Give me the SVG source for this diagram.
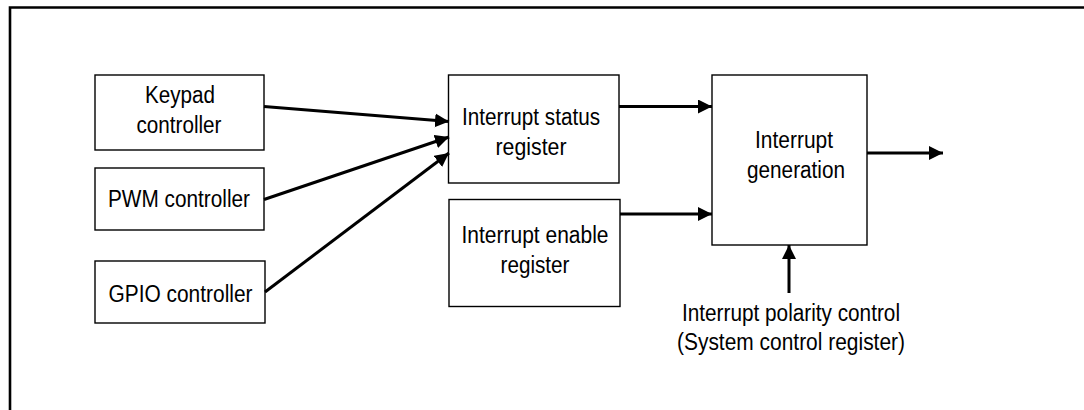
<svg xmlns="http://www.w3.org/2000/svg" width="1084" height="410" viewBox="0 0 1084 410">
<style>
.box{fill:#fff;stroke:#000;stroke-width:1.4}
.t{font-family:"Liberation Sans",Arial,sans-serif;font-size:23px;fill:#000;text-anchor:middle}
.c{fill:none;stroke:#000;stroke-width:3}
.frame{fill:none;stroke:#000;stroke-width:2.6}
</style>
<defs>
<marker id="ah" markerUnits="userSpaceOnUse" markerWidth="16" markerHeight="16" refX="14" refY="7" orient="auto">
<path d="M0,0 L14,7 L0,14 z" fill="#000"/>
</marker>
</defs>
<rect width="1084" height="410" fill="#fff"/>
<path class="frame" d="M10,410 L10,7.5 L1084,7.5"/>
<g id="keypad"><rect class="box" x="95" y="75" width="169" height="75"/><text class="t" x="180" y="103" textLength="70" lengthAdjust="spacingAndGlyphs">Keypad</text><text class="t" x="179" y="133" textLength="85" lengthAdjust="spacingAndGlyphs">controller</text></g>
<g id="pwm"><rect class="box" x="95" y="168" width="169" height="62"/><text class="t" x="179" y="207" textLength="142" lengthAdjust="spacingAndGlyphs">PWM controller</text></g>
<g id="gpio"><rect class="box" x="95" y="261" width="170" height="62"/><text class="t" x="180.5" y="302" textLength="144" lengthAdjust="spacingAndGlyphs">GPIO controller</text></g>
<g id="status"><rect class="box" x="448.5" y="75" width="170.5" height="108"/><text class="t" x="531" y="125" textLength="138" lengthAdjust="spacingAndGlyphs">Interrupt status</text><text class="t" x="531" y="155" textLength="71" lengthAdjust="spacingAndGlyphs">register</text></g>
<g id="enable"><rect class="box" x="449" y="199.5" width="171" height="107"/><text class="t" x="535" y="243" textLength="147" lengthAdjust="spacingAndGlyphs">Interrupt enable</text><text class="t" x="535" y="273" textLength="69" lengthAdjust="spacingAndGlyphs">register</text></g>
<g id="generation"><rect class="box" x="712" y="75" width="155" height="170"/><text class="t" x="794" y="148" textLength="78" lengthAdjust="spacingAndGlyphs">Interrupt</text><text class="t" x="796" y="178" textLength="98" lengthAdjust="spacingAndGlyphs">generation</text></g>
<g id="polarity"><text class="t" x="791" y="321" textLength="218" lengthAdjust="spacingAndGlyphs">Interrupt polarity control</text><text class="t" x="791" y="350" textLength="228" lengthAdjust="spacingAndGlyphs">(System control register)</text></g>
<g id="connectors">
<line class="c" x1="264" y1="106.5" x2="449" y2="121.5" marker-end="url(#ah)"/>
<line class="c" x1="264" y1="199.5" x2="449" y2="137" marker-end="url(#ah)"/>
<line class="c" x1="265" y1="292" x2="449" y2="153" marker-end="url(#ah)"/>
<line class="c" x1="619" y1="106.5" x2="712" y2="106.5" marker-end="url(#ah)"/>
<line class="c" x1="620" y1="214" x2="712" y2="214" marker-end="url(#ah)"/>
<line class="c" x1="867" y1="153" x2="943" y2="153" marker-end="url(#ah)"/>
<line class="c" x1="789" y1="293" x2="789" y2="245" marker-end="url(#ah)"/>
</g>
</svg>
